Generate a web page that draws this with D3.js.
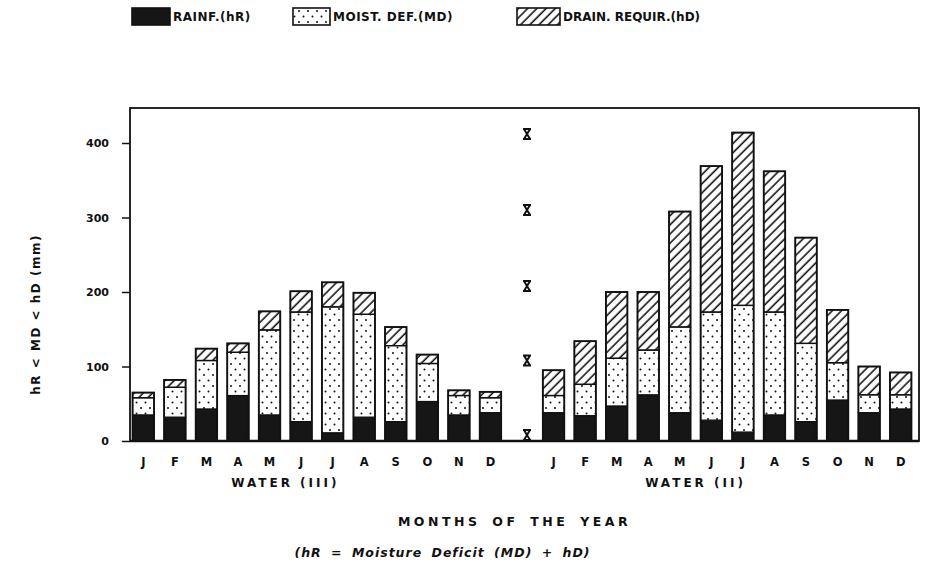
<!DOCTYPE html>
<html>
<head>
<meta charset="utf-8">
<script src="https://cdn.jsdelivr.net/npm/d3@7"></script>
<style>
    body { margin: 0; background: #fff; }
    svg { display: block; }
    text { font-family: "DejaVu Sans", sans-serif; font-weight: bold; fill: #111; }
</style>
</head>
<body>
<svg id="chart" width="927" height="571"></svg>
<script>
// values (mm)
const months = ["J", "F", "M", "A", "M", "J", "J", "A", "S", "O", "N", "D"];
const groupNames = ["WATER (III)", "WATER (II)"];
const yTicks = [0, 100, 200, 300, 400];
const markerValues = [8, 108, 208, 310, 412];

// left panel: WATER (III)
const rainfallIII = [35, 32, 43, 61, 35, 26, 11, 32, 26, 53, 35, 38];
const moistureIII = [23, 40, 65, 58, 114, 147, 169, 138, 102, 51, 26, 20];
const drainageIII = [7, 10, 16, 12, 25, 28, 33, 29, 25, 12, 7, 8];

// right panel: WATER (II)
const rainfallII = [38, 34, 47, 62, 38, 28, 12, 35, 26, 55, 38, 43];
const moistureII = [23, 42, 64, 60, 115, 145, 170, 138, 105, 50, 24, 19];
const drainageII = [34, 58, 89, 78, 155, 196, 232, 189, 142, 71, 38, 30];

const legendLabels = ["RAINF.(hR)", "MOIST.  DEF.(MD)", "DRAIN.  REQUIR.(hD)"];
const xLabel = "MONTHS  OF  THE  YEAR";
const yLabel = "hR < MD < hD (mm)";
const note = "(hR = Moisture  Deficit (MD) + hD)";

const svg = d3.select("#chart");
const width = +svg.attr("width");
const height = +svg.attr("height");
const margin = { top: 108, right: 8, bottom: 130, left: 130 };
const innerWidth = width - margin.left - margin.right;
const innerHeight = height - margin.top - margin.bottom;

// patterns
const defs = svg.append("defs");
defs.append("pattern")
    .attr("id", "hatch")
    .attr("patternUnits", "userSpaceOnUse")
    .attr("width", 6.5)
    .attr("height", 6.5)
    .attr("patternTransform", "rotate(45)")
    .append("line")
    .attr("x1", 3).attr("y1", 0)
    .attr("x2", 3).attr("y2", 6.5)
    .attr("stroke", "#111")
    .attr("stroke-width", 1.6);

const dots = defs.append("pattern")
    .attr("id", "dots")
    .attr("patternUnits", "userSpaceOnUse")
    .attr("width", 9)
    .attr("height", 11);
dots.append("rect").attr("width", 9).attr("height", 11).attr("fill", "#fff");
dots.append("circle").attr("cx", 2).attr("cy", 3).attr("r", 1).attr("fill", "#111");
dots.append("circle").attr("cx", 6.5).attr("cy", 8.5).attr("r", 1).attr("fill", "#111");

const fills = { hR: "#161616", MD: "url(#dots)", hD: "url(#hatch)" };
const keys = ["hR", "MD", "hD"];

// rows: 12 months, an empty slot, 12 months
const panels = [
    { name: groupNames[0], hR: rainfallIII, MD: moistureIII, hD: drainageIII },
    { name: groupNames[1], hR: rainfallII, MD: moistureII, hD: drainageII }
];
const rows = [];
panels.forEach((p, gi) => {
    months.forEach((m, i) => {
        rows.push({ slot: `${gi}-${i}`, month: m, hR: p.hR[i], MD: p.MD[i], hD: p.hD[i] });
    });
});
const slots = [...months.map((m, i) => `0-${i}`), "gap", ...months.map((m, i) => `1-${i}`)];

const x = d3.scaleBand()
    .domain(slots)
    .range([1, innerWidth - 6])
    .paddingInner(0.32)
    .paddingOuter(0.05);

const y = d3.scaleLinear()
    .domain([0, 447])
    .range([innerHeight, 0]);

const g = svg.append("g").attr("transform", `translate(${margin.left},${margin.top})`);

// bars
const stacked = d3.stack().keys(keys)(rows);
stacked.forEach(layer => {
    g.append("g")
        .selectAll("rect")
        .data(layer)
        .enter()
        .append("rect")
        .attr("x", d => x(d.data.slot))
        .attr("width", x.bandwidth())
        .attr("y", d => y(d[1]))
        .attr("height", d => y(d[0]) - y(d[1]))
        .attr("fill", fills[layer.key])
        .attr("stroke", "#111")
        .attr("stroke-width", 1.3);
});

// bar outlines
g.append("g")
    .selectAll("rect")
    .data(rows)
    .enter()
    .append("rect")
    .attr("x", d => x(d.slot))
    .attr("width", x.bandwidth())
    .attr("y", d => y(d.hR + d.MD + d.hD))
    .attr("height", d => y(0) - y(d.hR + d.MD + d.hD))
    .attr("fill", "none")
    .attr("stroke", "#111")
    .attr("stroke-width", 1.8);

// frame
g.append("rect")
    .attr("width", innerWidth)
    .attr("height", innerHeight)
    .attr("fill", "none")
    .attr("stroke", "#111")
    .attr("stroke-width", 1.8);

g.append("line")
    .attr("x1", 0).attr("x2", innerWidth)
    .attr("y1", y(0)).attr("y2", y(0))
    .attr("stroke", "#111")
    .attr("stroke-width", 2.4);

// y axis
const yAxis = g.append("g")
    .call(d3.axisLeft(y).tickValues(yTicks).tickSize(8).tickPadding(13));
yAxis.select(".domain").remove();
yAxis.selectAll(".tick line").attr("stroke", "#111").attr("stroke-width", 1.5);
yAxis.selectAll(".tick text")
    .attr("fill", "#111")
    .style("font-family", "DejaVu Sans, sans-serif")
    .style("font-weight", "bold")
    .style("font-size", "11px");

// separator marks between the two panels
const markX = x("gap") + x.bandwidth() / 2 + 5;
g.append("g")
    .selectAll("path")
    .data(markerValues)
    .enter()
    .append("path")
    .attr("transform", d => `translate(${markX},${y(d)})`)
    .attr("d", "M-4,-5H4M-4,5H4M-3,-5L3,5M3,-5L-3,5")
    .attr("fill", "none")
    .attr("stroke", "#111")
    .attr("stroke-width", 2);

// month labels
g.append("g")
    .selectAll("text")
    .data(rows)
    .enter()
    .append("text")
    .attr("x", d => x(d.slot) + x.bandwidth() / 2)
    .attr("y", innerHeight + 25)
    .attr("text-anchor", "middle")
    .style("font-size", "11.5px")
    .text(d => d.month);

// panel labels, centred between May and June bars
panels.forEach((p, gi) => {
    const cx = (x(`${gi}-4`) + x(`${gi}-5`) + x.bandwidth()) / 2;
    g.append("text")
        .attr("x", cx)
        .attr("y", innerHeight + 46)
        .attr("text-anchor", "middle")
        .style("font-size", "12px")
        .style("letter-spacing", "3px")
        .text(p.name);
});

// axis titles
g.append("text")
    .attr("x", innerWidth / 2 - 10)
    .attr("y", innerHeight + 85)
    .attr("text-anchor", "middle")
    .style("font-size", "12.5px")
    .style("letter-spacing", "3.5px")
    .style("word-spacing", "4px")
    .text(xLabel);

g.append("text")
    .attr("x", innerWidth / 2 - 82)
    .attr("y", innerHeight + 116)
    .attr("text-anchor", "middle")
    .style("font-size", "12.5px")
    .style("font-style", "italic")
    .style("letter-spacing", "1px")
    .style("word-spacing", "4px")
    .text(note);

svg.append("text")
    .attr("transform", `translate(40, ${margin.top + y(170)}) rotate(-90)`)
    .attr("text-anchor", "middle")
    .style("font-size", "12px")
    .style("letter-spacing", "1.5px")
    .text(yLabel);

// legend
const legendX = [132, 293, 517];
const legendW = [38, 37, 43];
const legend = svg.append("g").attr("transform", "translate(0, 8)");
keys.forEach((k, i) => {
    legend.append("rect")
        .attr("x", legendX[i])
        .attr("y", 0)
        .attr("width", legendW[i])
        .attr("height", 17)
        .attr("fill", fills[k])
        .attr("stroke", "#111")
        .attr("stroke-width", 1.6);
    legend.append("text")
        .attr("x", legendX[i] + legendW[i] + 3)
        .attr("y", 13)
        .style("font-size", "12px")
        .style("letter-spacing", i === 2 ? "0px" : "0.5px")
        .text(legendLabels[i]);
});
</script>
</body>
</html>
